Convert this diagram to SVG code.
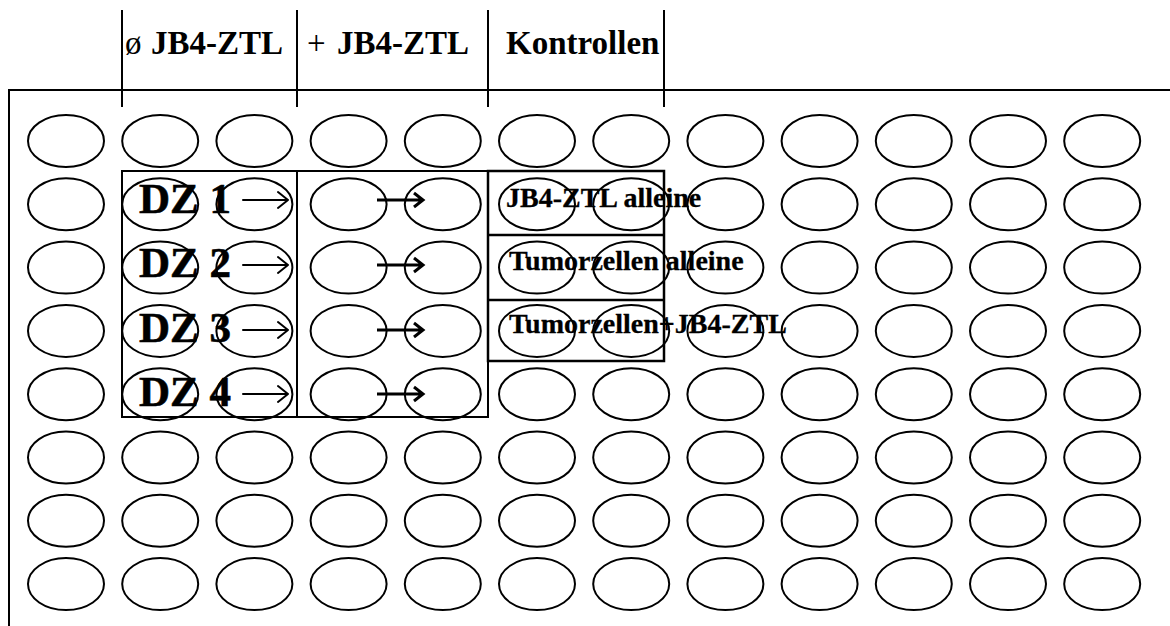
<svg xmlns="http://www.w3.org/2000/svg" width="1170" height="626" viewBox="0 0 1170 626">
<defs>
<style>
.ln{stroke:#000;stroke-width:2;fill:none}
.box{stroke:#000;stroke-width:2.5;fill:none}
.w{stroke:#000;stroke-width:2;fill:none}
.hd{font-family:"Liberation Serif",serif;font-weight:bold;font-size:33px;fill:#000}
.hs{font-family:"Liberation Serif",serif;font-weight:normal;font-size:33px;fill:#000}
.dz{font-family:"Liberation Serif",serif;font-weight:bold;font-size:43px;fill:#000;stroke:#000;stroke-width:0.6}
.ct{font-family:"Liberation Serif",serif;font-weight:bold;font-size:28px;fill:#000;stroke:#000;stroke-width:0.3}
.a1{stroke:#000;stroke-width:2;fill:none;stroke-linecap:round;stroke-linejoin:round}
.a2{stroke:#000;stroke-width:3;fill:none;stroke-linecap:butt;stroke-linejoin:miter}
</style>
<ellipse id="well" cx="0" cy="0" rx="38" ry="26" class="w"/>
<path id="arr1" class="a1" d="M0,0 H45 M35,-8 L45,0 L35,8"/>
<path id="arr2" class="a2" d="M0,0 H46 M37,-7 L46,0 L37,7"/>
</defs>
<rect width="1170" height="626" fill="#fff"/>
<g id="plate">
<path class="ln" d="M9,626 V90 H1170"/>
</g>
<g id="header">
<path class="ln" d="M122,10 V107 M297,10 V107 M488,10 V107 M664,10 V107"/>
<text class="hs" x="125" y="54">ø</text>
<text class="hd" x="151" y="54">JB4-ZTL</text>
<text class="hs" x="307" y="54">+</text>
<text class="hd" x="337" y="54">JB4-ZTL</text>
<text class="hd" x="506" y="54">Kontrollen</text>
</g>
<g id="wells">
<g id="row1" transform="translate(0,141)"><use href="#well" x="66"/><use href="#well" x="160.2"/><use href="#well" x="254.4"/><use href="#well" x="348.6"/><use href="#well" x="442.8"/><use href="#well" x="537"/><use href="#well" x="631.2"/><use href="#well" x="725.4"/><use href="#well" x="819.6"/><use href="#well" x="913.8"/><use href="#well" x="1008"/><use href="#well" x="1102.2"/></g>
<g id="row2" transform="translate(0,204.3)"><use href="#well" x="66"/><use href="#well" x="160.2"/><use href="#well" x="254.4"/><use href="#well" x="348.6"/><use href="#well" x="442.8"/><use href="#well" x="537"/><use href="#well" x="631.2"/><use href="#well" x="725.4"/><use href="#well" x="819.6"/><use href="#well" x="913.8"/><use href="#well" x="1008"/><use href="#well" x="1102.2"/></g>
<g id="row3" transform="translate(0,267.6)"><use href="#well" x="66"/><use href="#well" x="160.2"/><use href="#well" x="254.4"/><use href="#well" x="348.6"/><use href="#well" x="442.8"/><use href="#well" x="537"/><use href="#well" x="631.2"/><use href="#well" x="725.4"/><use href="#well" x="819.6"/><use href="#well" x="913.8"/><use href="#well" x="1008"/><use href="#well" x="1102.2"/></g>
<g id="row4" transform="translate(0,330.9)"><use href="#well" x="66"/><use href="#well" x="160.2"/><use href="#well" x="254.4"/><use href="#well" x="348.6"/><use href="#well" x="442.8"/><use href="#well" x="537"/><use href="#well" x="631.2"/><use href="#well" x="725.4"/><use href="#well" x="819.6"/><use href="#well" x="913.8"/><use href="#well" x="1008"/><use href="#well" x="1102.2"/></g>
<g id="row5" transform="translate(0,394.2)"><use href="#well" x="66"/><use href="#well" x="160.2"/><use href="#well" x="254.4"/><use href="#well" x="348.6"/><use href="#well" x="442.8"/><use href="#well" x="537"/><use href="#well" x="631.2"/><use href="#well" x="725.4"/><use href="#well" x="819.6"/><use href="#well" x="913.8"/><use href="#well" x="1008"/><use href="#well" x="1102.2"/></g>
<g id="row6" transform="translate(0,457.5)"><use href="#well" x="66"/><use href="#well" x="160.2"/><use href="#well" x="254.4"/><use href="#well" x="348.6"/><use href="#well" x="442.8"/><use href="#well" x="537"/><use href="#well" x="631.2"/><use href="#well" x="725.4"/><use href="#well" x="819.6"/><use href="#well" x="913.8"/><use href="#well" x="1008"/><use href="#well" x="1102.2"/></g>
<g id="row7" transform="translate(0,520.8)"><use href="#well" x="66"/><use href="#well" x="160.2"/><use href="#well" x="254.4"/><use href="#well" x="348.6"/><use href="#well" x="442.8"/><use href="#well" x="537"/><use href="#well" x="631.2"/><use href="#well" x="725.4"/><use href="#well" x="819.6"/><use href="#well" x="913.8"/><use href="#well" x="1008"/><use href="#well" x="1102.2"/></g>
<g id="row8" transform="translate(0,584.1)"><use href="#well" x="66"/><use href="#well" x="160.2"/><use href="#well" x="254.4"/><use href="#well" x="348.6"/><use href="#well" x="442.8"/><use href="#well" x="537"/><use href="#well" x="631.2"/><use href="#well" x="725.4"/><use href="#well" x="819.6"/><use href="#well" x="913.8"/><use href="#well" x="1008"/><use href="#well" x="1102.2"/></g>
</g>
<g id="dz-box">
<rect class="ln" x="122" y="171" width="366" height="246"/>
<path class="ln" d="M297,171 V417"/>
</g>
<g id="dz1"><text class="dz" x="139" y="213">DZ 1</text></g>
<g id="dz2"><text class="dz" x="139" y="277">DZ 2</text></g>
<g id="dz3"><text class="dz" x="139" y="342">DZ 3</text></g>
<g id="dz4"><text class="dz" x="139" y="406">DZ 4</text></g>
<g id="controls">
<rect class="box" x="488" y="171" width="176" height="190"/>
<path class="box" d="M488,235 H664 M488,300 H664"/>
<text class="ct" x="506" y="207">JB4-ZTL alleine</text>
<text class="ct" x="509" y="270">Tumorzellen alleine</text>
<text class="ct" x="509" y="333">Tumorzellen+JB4-ZTL</text>
</g>
<g id="connectors">
<use href="#arr1" x="243" y="200"/>
<use href="#arr1" x="243" y="265"/>
<use href="#arr1" x="243" y="330"/>
<use href="#arr1" x="243" y="394"/>
<use href="#arr2" x="377" y="200"/>
<use href="#arr2" x="377" y="265"/>
<use href="#arr2" x="377" y="330"/>
<use href="#arr2" x="377" y="394"/>
</g>
</svg>
